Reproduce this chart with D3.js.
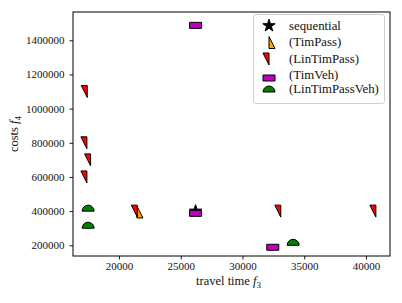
<!DOCTYPE html>
<html>
<head>
<meta charset="utf-8">
<script src="https://cdn.jsdelivr.net/npm/d3@7"></script>
<style>
  body { margin: 0; background: #fff; }
  svg { display: block; font-family: "Liberation Serif", "DejaVu Serif", serif; }
  .axis path, .axis line { stroke: #000; stroke-width: 0.9; }
  .axis text { fill: #111; font-family: "Liberation Serif", serif; }
</style>
</head>
<body>
<div id="chart"></div>
<script>
// values
var sequential = [
    {x: 26200, y: 400000}
];
var timPass = [
    {x: 21450, y: 395000}
];
var linTimPass = [
    {x: 17430, y: 1100000},
    {x: 17400, y: 800000},
    {x: 17700, y: 700000},
    {x: 17400, y: 600000},
    {x: 21480, y: 400000},
    {x: 33100, y: 400000},
    {x: 40800, y: 400000}
];
var timVeh = [
    {x: 26200, y: 1505000},
    {x: 26200, y: 405000},
    {x: 32450, y: 206000}
];
var linTimPassVeh = [
    {x: 17500, y: 400000},
    {x: 17500, y: 300000},
    {x: 34100, y: 200000}
];
var xTicks = [20000, 25000, 30000, 35000, 40000];
var yTicks = [200000, 400000, 600000, 800000, 1000000, 1200000, 1400000];
var legendLabels = ["sequential", "(TimPass)", "(LinTimPass)", "(TimVeh)", "(LinTimPassVeh)"];

var width = 402, height = 303;
var margin = {top: 12, right: 12, bottom: 47, left: 73};

var svg = d3.select("#chart").append("svg")
    .attr("width", width)
    .attr("height", height);

var x = d3.scaleLinear()
    .domain([16275, 41943])
    .range([margin.left, width - margin.right]);

var y = d3.scaleLinear()
    .domain([137400, 1565600])
    .range([height - margin.bottom, margin.top]);

// marker shapes (half filled, like matplotlib fillstyle markers)
var r = 6;
var starPath = (function () {
    var pts = [];
    for (var i = 0; i < 10; i++) {
        var rad = i % 2 === 0 ? r + 0.5 : (r + 0.5) * 0.382;
        var a = -Math.PI / 2 + i * Math.PI / 5;
        pts.push([rad * Math.cos(a), rad * Math.sin(a)]);
    }
    return "M" + pts.map(function (p) { return p[0].toFixed(2) + "," + p[1].toFixed(2); }).join("L") + "Z";
})();
var shapes = {
    star: starPath,
    rightUp: "M0," + (-r) + "L" + r + "," + r + "L0," + r + "Z",
    leftDown: "M" + (-r) + "," + (-r) + "L0," + (-r) + "L0," + r + "Z",
    bottomSquare: "M" + (-r) + ",0H" + r + "V" + r + "H" + (-r) + "Z",
    topCircle: "M" + (-r) + ",0A" + r + "," + r + " 0 0 1 " + r + ",0Z"
};

var series = [
    {data: sequential, shape: "star", color: "#000"},
    {data: timPass, shape: "rightUp", color: "#ffa500"},
    {data: linTimPass, shape: "leftDown", color: "#ff0000"},
    {data: timVeh, shape: "bottomSquare", color: "#bf00bf"},
    {data: linTimPassVeh, shape: "topCircle", color: "#008000"}
];

// axes
svg.append("g")
    .attr("class", "axis")
    .attr("transform", "translate(0," + (height - margin.bottom) + ")")
    .style("font-size", "11px")
    .call(d3.axisBottom(x).tickValues(xTicks).tickSize(3.5).tickPadding(3).tickFormat(d3.format("d")))
    .call(function (g) { g.select(".domain").remove(); });

svg.append("g")
    .attr("class", "axis")
    .attr("transform", "translate(" + margin.left + ",0)")
    .style("font-size", "11px")
    .call(d3.axisLeft(y).tickValues(yTicks).tickSize(3.5).tickPadding(5).tickFormat(d3.format("d")))
    .call(function (g) { g.select(".domain").remove(); });

// markers
series.forEach(function (s) {
    svg.append("g").selectAll("path")
        .data(s.data)
        .enter().append("path")
        .attr("d", shapes[s.shape])
        .attr("transform", function (d) { return "translate(" + x(d.x) + "," + y(d.y) + ")"; })
        .style("fill", s.color)
        .style("stroke", "#000")
        .style("stroke-width", 1);
});

// frame
svg.append("rect")
    .attr("x", margin.left)
    .attr("y", margin.top)
    .attr("width", width - margin.left - margin.right)
    .attr("height", height - margin.top - margin.bottom)
    .style("fill", "none")
    .style("stroke", "#000")
    .style("stroke-width", 1);

// axis labels
var xl = svg.append("text")
    .attr("x", (margin.left + width - margin.right) / 2 - 3)
    .attr("y", 285)
    .attr("text-anchor", "middle")
    .style("font-size", "12.5px")
    .style("fill", "#111");
xl.append("tspan").text("travel time ");
xl.append("tspan").style("font-style", "italic").text("f");
xl.append("tspan").attr("dy", 2.5).style("font-size", "9px").text("3");

var yl = svg.append("text")
    .attr("transform", "translate(18," + ((margin.top + height - margin.bottom) / 2) + ") rotate(-90)")
    .attr("text-anchor", "middle")
    .style("font-size", "12.5px")
    .style("fill", "#111");
yl.append("tspan").text("costs ");
yl.append("tspan").style("font-style", "italic").text("f");
yl.append("tspan").attr("dy", 2.5).style("font-size", "9px").text("4");

// legend
var legend = svg.append("g");
legend.append("rect")
    .attr("x", 253.5)
    .attr("y", 14.5)
    .attr("width", 131)
    .attr("height", 89)
    .attr("rx", 2.5)
    .style("fill", "#fff")
    .style("fill-opacity", 0.85)
    .style("stroke", "#d0d0d0")
    .style("stroke-width", 1);

var rowY = [25.7, 42.5, 59, 75, 92];
var textY = [25.7, 42.3, 59.3, 75, 89.3];
series.forEach(function (s, i) {
    legend.append("path")
        .attr("d", shapes[s.shape])
        .attr("transform", "translate(269," + rowY[i] + ")")
        .style("fill", s.color)
        .style("stroke", "#000")
        .style("stroke-width", 1);
    legend.append("text")
        .attr("x", 289)
        .attr("y", textY[i] + 4)
        .style("font-size", "12.8px")
        .style("fill", "#111")
        .text(legendLabels[i]);
});
</script>
</body>
</html>
